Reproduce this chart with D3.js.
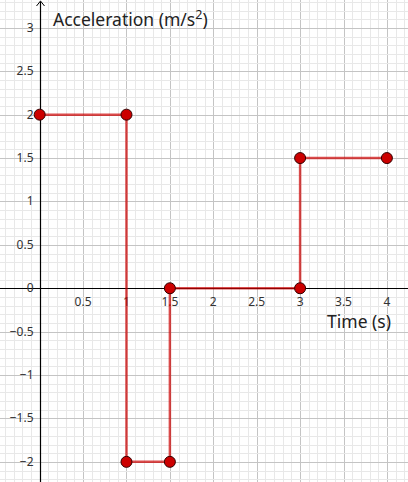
<!DOCTYPE html>
<html>
<head>
<meta charset="utf-8">
<script src="https://cdn.jsdelivr.net/npm/d3@7"></script>
<style>
  body { margin: 0; background: #fff; }
  svg { display: block; font-family: "Noto Sans", "Open Sans", sans-serif; }
  .tick-label { font-size: 12px; fill: #333; }
  .axis-title { font-size: 17.5px; fill: #222; }
</style>
</head>
<body>
<div id="chart"></div>
<script>
const times = [0, 1, 1, 1.5, 1.5, 3, 3, 4];
const accel = [2, 2, -2, -2, 0, 0, 1.5, 1.5];
const xTickValues = [0.5, 1, 1.5, 2, 2.5, 3, 3.5, 4];
const yTickValues = [3, 2.5, 2, 1.5, 1, 0.5, 0, -0.5, -1, -1.5, -2];

const width = 408;
const height = 482;

const x = d3.scaleLinear().domain([-0.457, 4.243]).range([0, width]);
const y = d3.scaleLinear().domain([3.321, -2.232]).range([0, height]);

const svg = d3.select("#chart")
    .append("svg")
    .attr("width", width)
    .attr("height", height);

// grid
const minorX = d3.range(-4, 43).map(d => d / 10);
const minorY = d3.range(-22, 34).map(d => d / 10);

svg.append("g").selectAll("line")
    .data(minorX)
    .enter().append("line")
    .attr("x1", d => Math.round(x(d)) + 0.5)
    .attr("x2", d => Math.round(x(d)) + 0.5)
    .attr("y1", 0).attr("y2", height)
    .attr("stroke", d => Math.abs(d * 2 - Math.round(d * 2)) < 1e-6 ? "#c4c4c4" : "#e8e8e8")
    .attr("stroke-width", 1);

svg.append("g").selectAll("line")
    .data(minorY)
    .enter().append("line")
    .attr("y1", d => Math.round(y(d)) + 0.5)
    .attr("y2", d => Math.round(y(d)) + 0.5)
    .attr("x1", 0).attr("x2", width)
    .attr("stroke", d => Math.abs(d * 2 - Math.round(d * 2)) < 1e-6 ? "#c4c4c4" : "#e8e8e8")
    .attr("stroke-width", 1);

// axes
const x0 = Math.round(x(0)) + 0.5;
const y0 = Math.round(y(0)) + 0.5;

svg.append("line")
    .attr("x1", 0).attr("x2", width)
    .attr("y1", y0).attr("y2", y0)
    .attr("stroke", "#000").attr("stroke-width", 1.2);

svg.append("line")
    .attr("x1", x0).attr("x2", x0)
    .attr("y1", 2).attr("y2", height)
    .attr("stroke", "#000").attr("stroke-width", 1.2);

svg.append("path")
    .attr("d", `M${x0 - 4},${6} L${x0},${1} L${x0 + 4},${6}`)
    .attr("fill", "none")
    .attr("stroke", "#000")
    .attr("stroke-width", 1);

// tick labels
const fmt = d => String(d).replace("-", "\u2212");

svg.append("g").selectAll("text")
    .data(xTickValues)
    .enter().append("text")
    .attr("class", "tick-label")
    .attr("x", d => x(d))
    .attr("y", y0 + 17)
    .attr("text-anchor", "middle")
    .text(fmt);

svg.append("g").selectAll("text")
    .data(yTickValues)
    .enter().append("text")
    .attr("class", "tick-label")
    .attr("x", x0 - 7)
    .attr("y", d => y(d) + 4)
    .attr("text-anchor", "end")
    .text(fmt);

// axis titles
svg.append("text")
    .attr("class", "axis-title")
    .attr("x", 53)
    .attr("y", 26)
    .html('Acceleration (m/s<tspan dy="-7" font-size="12.5">2</tspan><tspan dy="7">)</tspan>');

svg.append("text")
    .attr("class", "axis-title")
    .attr("x", 391)
    .attr("y", 328)
    .attr("text-anchor", "end")
    .text("Time (s)");

// step line
const pts = times.map((t, i) => [t, accel[i]]);

svg.append("path")
    .datum(pts)
    .attr("fill", "none")
    .attr("stroke", "#cc0000")
    .attr("stroke-opacity", 0.7)
    .attr("stroke-width", 2.5)
    .attr("d", d3.line().x(d => x(d[0])).y(d => y(d[1])));

svg.append("g").selectAll("circle")
    .data(pts)
    .enter().append("circle")
    .attr("cx", d => x(d[0]))
    .attr("cy", d => y(d[1]))
    .attr("r", 5.5)
    .attr("fill", "#cc0000")
    .attr("stroke", "#330000")
    .attr("stroke-width", 1);
</script>
</body>
</html>
